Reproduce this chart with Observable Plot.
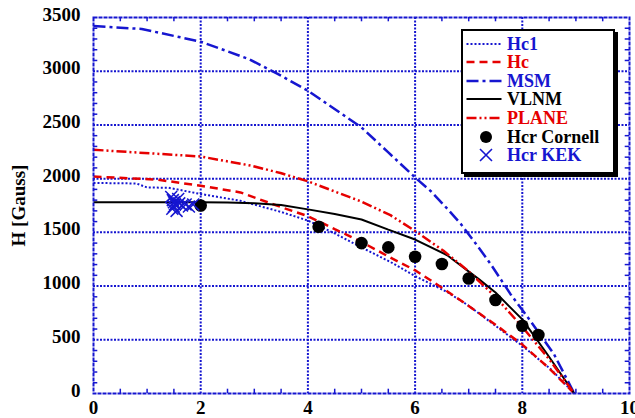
<!DOCTYPE html>
<html><head><meta charset="utf-8">
<script src="https://cdn.jsdelivr.net/npm/d3@7"></script>
<script src="https://cdn.jsdelivr.net/npm/@observablehq/plot@0.6"></script>
<style>
body{margin:0;background:#fff;}
#wrap{position:relative;width:635px;height:418px;overflow:hidden;}
#legend{position:absolute;left:461px;top:29px;width:150px;height:141px;border:2px solid #000;box-shadow:3px 3px 0 #000;background:#fff;font:bold 18px "Liberation Serif",serif;}
.row{position:absolute;left:0;height:18px;width:150px;}
.row svg{position:absolute;left:0;top:0;}
.row span{position:absolute;left:44px;top:0;line-height:18px;white-space:nowrap;}
</style></head><body><div id="wrap"></div>
<script>
// ---- data ----
const T_hc1 = [0,0.8,1.0,1.4,2,2.74,3.5,4,4.5,5,5.54,6,6.6,7,7.5,8,8.53,8.97];
const H_hc1 = [1960,1955,1918,1915,1857,1794,1690,1610,1490,1360,1224,1093,944,817,630,444,227,0];

const T_hc = [0,1.2,2,2.74,3.5,4,4.5,5,5.54,6,6.5,7,7.5,8,8.5,8.97];
const H_hc = [2020,1990,1934,1872,1735,1651,1530,1411,1265,1147,985,815,640,455,235,0];

const T_msm = [0,0.9,2,2.9,3.5,4,5,5.5,6,6.3,6.6,6.85,7.13,7.41,7.78,8.15,8.59,8.97];
const H_msm = [3420,3393,3275,3113,2958,2818,2477,2244,2011,1880,1720,1580,1397,1205,925,677,367,0];

const T_vlnm = [0,1,2,2.5,3,3.5,4,4.5,5,5.5,6,6.6,7.2,7.5,8,8.46,8.97];
const H_vlnm = [1780,1780,1780,1778,1770,1754,1714,1670,1620,1525,1433,1287,1060,940,690,370,0];

const T_plane = [0,2,2.93,3.49,4,4.98,5.54,6,6.53,6.97,7.5,8,8.5,8.97];
const H_plane = [2269,2206,2122,2052,1975,1790,1660,1513,1328,1150,900,620,320,0];

const T_cornell = [2.0,4.2,5.0,5.5,6.0,6.5,7.0,7.5,8.0,8.3];
const H_cornell = [1750,1552,1400,1360,1273,1205,1071,870,630,544];

const T_kek = [1.45,1.48,1.50,1.52,1.50,1.47,1.55,1.60,1.58,1.65,1.72,1.78,1.86];
const H_kek = [1830,1800,1780,1760,1740,1720,1700,1770,1810,1750,1760,1740,1760];

const xTicks = [0,2,4,6,8,10];
const yTicks = [0,500,1000,1500,2000,2500,3000,3500];
const legendLabels = ["Hc1","Hc","MSM","VLNM","PLANE","Hcr Cornell","Hcr KEK"];

// ---- build ----
const zip = (T,H) => T.map((t,i)=>({t, h:H[i]}));
const blue = "#1616d0", red = "#e60000";
const xMinor = d3.range(0.5,10,0.5).filter(v => v % 2 !== 0);
const yMinor = d3.range(100,3500,100).filter(v => v % 500 !== 0);
const font = '"Liberation Serif", "Times New Roman", serif';

const styles = [
  {stroke: blue, strokeWidth: 2, strokeDasharray: "2,2"},
  {stroke: red, strokeWidth: 2.5, strokeDasharray: "8,5"},
  {stroke: blue, strokeWidth: 2.5, strokeDasharray: "12,4,3,4"},
  {stroke: "black", strokeWidth: 2},
  {stroke: red, strokeWidth: 2.5, strokeDasharray: "10,3,2,3,2,3"}
];
const seriesData = [zip(T_hc1,H_hc1), zip(T_hc,H_hc), zip(T_msm,H_msm), zip(T_vlnm,H_vlnm), zip(T_plane,H_plane)];

const plot = Plot.plot({
  width: 635, height: 418,
  marginLeft: 93, marginRight: 6, marginTop: 17, marginBottom: 25,
  x: {domain: [0,10]},
  y: {domain: [0,3500]},
  style: {fontFamily: font, fontSize: "19px", fontWeight: "bold", background: "white", overflow: "visible"},
  marks: [
    Plot.ruleX(xTicks.slice(1,-1), {stroke: blue, strokeWidth: 2, strokeDasharray: "2,1.5", strokeLinecap: "butt"}),
    Plot.ruleY(yTicks.slice(1,-1), {stroke: blue, strokeWidth: 2, strokeDasharray: "2,1.5", strokeLinecap: "butt"}),
    ...seriesData.map((d,i) => Plot.line(d, {x: "t", y: "h", strokeLinecap: "butt", strokeLinejoin: "miter", ...styles[i]})),
    Plot.ruleY(yMinor, {x1: 0, x2: 0.08, stroke: blue, strokeWidth: 1.5}),
    Plot.ruleY(yMinor, {x1: 9.92, x2: 10, stroke: blue, strokeWidth: 1.5}),
    Plot.ruleX(xMinor, {y1: 0, y2: 40, stroke: blue, strokeWidth: 1.5}),
    Plot.ruleX(xMinor, {y1: 3460, y2: 3500, stroke: blue, strokeWidth: 1.5}),
    Plot.frame({stroke: blue, strokeWidth: 2, strokeDasharray: "4,1"}),
    Plot.dot(zip(T_cornell,H_cornell), {x: "t", y: "h", r: 6.3, fill: "black"}),
    Plot.dot(zip(T_kek,H_kek), {x: "t", y: "h", symbol: "times", r: 5.5, stroke: blue, strokeWidth: 1.5}),
    Plot.axisX({ticks: xTicks, tickSize: 0, tickPadding: 7, label: null, fill: "black", tickFormat: d => String(d), fontSize: 19, fontWeight: "bold", fontFamily: font}),
    Plot.axisY({ticks: yTicks, tickSize: 0, tickPadding: 13, dy: -3, tickFormat: d => String(d), label: "H [Gauss]", labelAnchor: "center", labelArrow: "none", labelOffset: 82, fill: "black", fontSize: 19, fontWeight: "bold", fontFamily: font})
  ]
});
const wrap = document.getElementById("wrap");
wrap.appendChild(plot);

// legend
const leg = document.createElement("div");
leg.id = "legend";
const legendColors = [blue, red, blue, "black", red, "black", blue];
legendLabels.forEach((lab, i) => {
  const row = document.createElement("div");
  row.className = "row";
  row.style.top = (3.5 + i*18.6) + "px";
  const svg = d3.create("svg").attr("width", 42).attr("height", 18);
  if (i < 5) {
    const s = styles[i];
    svg.append("line").attr("x1", 3.5).attr("x2", 38.5).attr("y1", 9).attr("y2", 9)
      .attr("stroke", s.stroke).attr("stroke-width", s.strokeWidth)
      .attr("stroke-dasharray", s.strokeDasharray || null);
  } else if (i === 5) {
    svg.append("circle").attr("cx", 23).attr("cy", 9).attr("r", 6).attr("fill", "black");
  } else {
    svg.append("path").attr("d", "M17,3L29,15M29,3L17,15").attr("stroke", blue).attr("stroke-width", 1.6).attr("fill", "none");
  }
  row.appendChild(svg.node());
  const sp = document.createElement("span");
  sp.textContent = lab;
  sp.style.color = legendColors[i];
  row.appendChild(sp);
  leg.appendChild(row);
});
wrap.appendChild(leg);
</script>
</body></html>
